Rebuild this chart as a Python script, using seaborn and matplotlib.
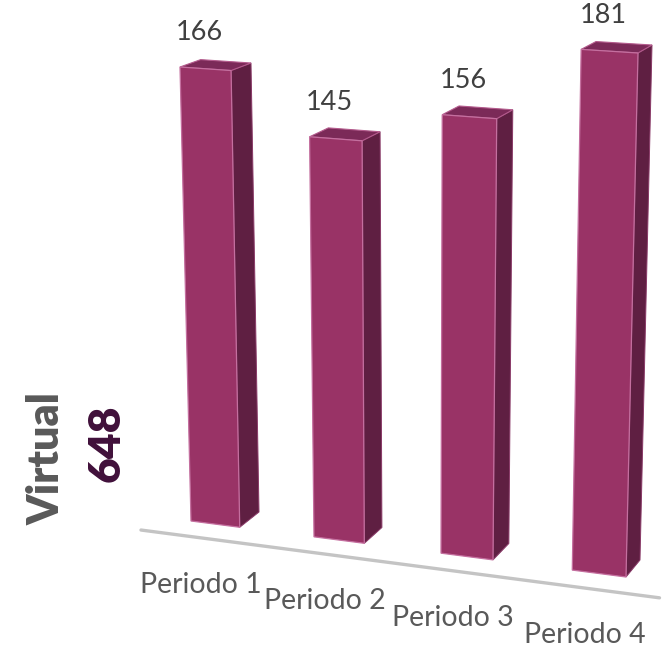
import numpy as np
import pandas as pd
import matplotlib
matplotlib.use("Agg")
import matplotlib.pyplot as plt
import seaborn as sns
from matplotlib.transforms import Transform, IdentityTransform
from matplotlib.patches import Polygon

# data
periods = ["Periodo 1", "Periodo 2", "Periodo 3", "Periodo 4"]
values = [166, 145, 156, 181]
group_name = "Virtual"
group_total = 648

FRONT = "#993366"
SIDE = "#5f1f42"
TOP = "#7b2a58"
W, H = 667, 653
BAR_W = 0.4

# view of the 3D chart: where the front and back planes of the columns land
# on the canvas (data point -> pixel, y measured from the top)
front_ref = [((-0.2, 0), (191, 521)), ((-0.2, 166), (180, 67)),
             ((3.2, 0), (626, 577)), ((3.2, 181), (638, 53))]
back_ref = [((0.2, 0), (259, 512)), ((0.2, 166), (251, 63)),
            ((3.2, 0), (640, 560)), ((3.2, 181), (652, 45))]


def fit_homography(pairs):
    """Solve the 3x3 projective map from four (data, pixel) pairs."""
    A, b = [], []
    for (x, y), (u, v) in pairs:
        v = H - v  # display coords have y going up
        A.append([x, y, 1, 0, 0, 0, -u * x, -u * y])
        A.append([0, 0, 0, x, y, 1, -v * x, -v * y])
        b += [u, v]
    h = np.linalg.solve(np.array(A, float), np.array(b, float))
    return np.append(h, 1).reshape(3, 3)


class Perspective(Transform):
    input_dims = output_dims = 2

    def __init__(self, mat):
        super().__init__()
        self.mat = mat

    def transform_non_affine(self, values):
        pts = np.asarray(values, float).reshape(-1, 2)
        hom = np.column_stack([pts, np.ones(len(pts))]) @ self.mat.T
        return hom[:, :2] / hom[:, 2:3]


sns.set_theme(style="white")
plt.rcParams["font.family"] = ["Lato", "DejaVu Sans"]

df = pd.DataFrame({"period": periods, "value": values})

fig = plt.figure(figsize=(W / 100, H / 100), dpi=100)
ax = fig.add_axes([0, 0, 1, 1])
sns.barplot(data=df, x="period", y="value", color=FRONT, width=BAR_W,
            saturation=1, ax=ax)
ax.set_axis_off()

front_view = Perspective(fit_homography(front_ref))
back_view = Perspective(fit_homography(back_ref))

# floor edge in front of the columns
ax.plot([-0.62, len(periods) - 0.55], [-6, -6], transform=front_view,
        color="#c4c4c4", lw=2.4, clip_on=False, solid_capstyle="round", zorder=1)

for i, bar in enumerate(ax.patches):
    x0, w, h = bar.get_x(), bar.get_width(), bar.get_height()
    x1 = x0 + w
    bar.set_transform(front_view)
    bar.set_clip_on(False)
    bar.set_edgecolor("#c46f9f")
    bar.set_linewidth(0.9)
    bar.set_zorder(3)

    side = np.vstack([front_view.transform([(x1, 0), (x1, h)]),
                      back_view.transform([(x1, h), (x1, 0)])])
    top = np.vstack([front_view.transform([(x0, h), (x1, h)]),
                     back_view.transform([(x1, h), (x0, h)])])
    ax.add_patch(Polygon(side, closed=True, transform=IdentityTransform(),
                         facecolor=SIDE, edgecolor="#8a3a68", lw=0.7,
                         clip_on=False, zorder=2))
    ax.add_patch(Polygon(top, closed=True, transform=IdentityTransform(),
                         facecolor=TOP, edgecolor="#b35a8c", lw=0.8,
                         clip_on=False, zorder=2))

    cx = x0 + w / 2
    ax.annotate(f"{values[i]}", xy=(cx, h), xycoords=front_view,
                xytext=(-6, 36), textcoords="offset pixels",
                ha="center", va="center", fontsize=19.5, color="#404040")
    ax.annotate(periods[i], xy=(cx, 0), xycoords=front_view,
                xytext=(-14, -61), textcoords="offset pixels",
                ha="center", va="center", fontsize=20.5, color="#595959")

fig.text(47 / W, 1 - 459 / H, group_name, rotation=90, ha="center", va="center",
         fontsize=31, fontweight="heavy", color="#595959")
fig.text(107 / W, 1 - 443 / H, f"{group_total}", rotation=90, ha="center",
         va="center", fontsize=32, fontweight="heavy", color="#40103a")

fig.savefig("out.png", dpi=100)
